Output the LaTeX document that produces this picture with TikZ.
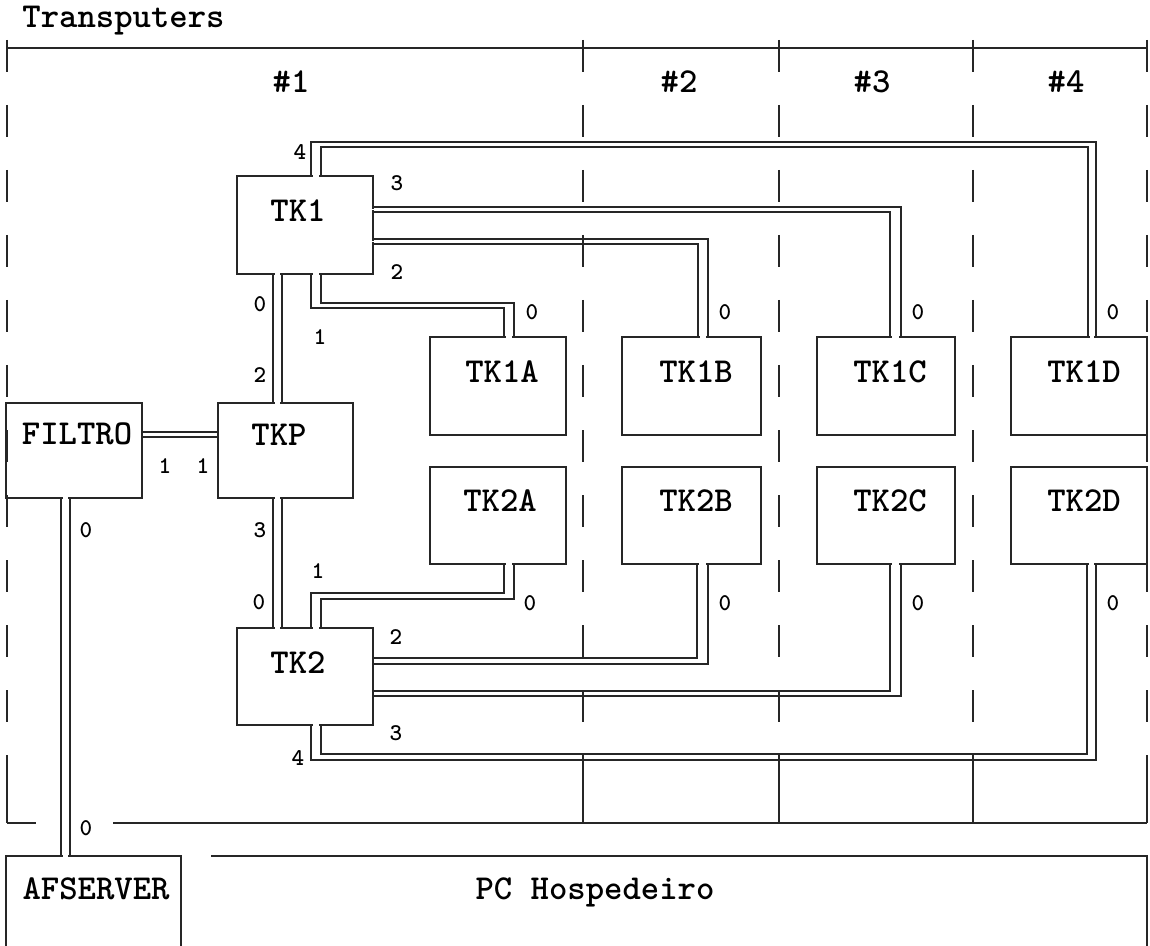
\documentclass[tikz,border=0pt]{standalone}
\usetikzlibrary{calc}
\begin{document}
\begin{tikzpicture}[x=0.5pt,y=-0.5pt,
  ln/.style={line width=0.7pt, draw=black!85},
  box/.style={ln, draw, rectangle, inner sep=0pt, outer sep=0pt},
  lk/.style={ln},
  gapw/.style={draw=white, line width=0.9pt},
  dv/.style={ln, dash pattern=on 16pt off 16.5pt},
  lbl/.style={font=\ttfamily\bfseries\fontsize{17.5}{20}\selectfont, inner sep=0pt},
  num/.style={font=\ttfamily\bfseries\fontsize{12}{14}\selectfont, inner sep=0pt},
]
\useasboundingbox (0,0) rectangle (1150,946);
\clip (0,0) rectangle (1150,946);

% frame
\draw[ln] (7,48) -- (1147,48);
\draw[ln] (7,823) -- (36,823);
\draw[ln] (113,823) -- (1147,823);
\foreach \xx in {7,583,779,973,1147}{
  \draw[dv] (\xx,40) -- (\xx,823);
  \draw[ln] (\xx,785) -- (\xx,823);
}

% titles
\node[lbl, anchor=base west] (title) at (22,28) {Transputers};
\node[lbl, anchor=base] (c1) at (291,93) {\#1};
\node[lbl, anchor=base] (c2) at (679,93) {\#2};
\node[lbl, anchor=base] (c3) at (872,93) {\#3};
\node[lbl, anchor=base] (c4) at (1066,93) {\#4};

% boxes
\node[box, minimum width=68pt, minimum height=49pt] (tk1) at (305,225) {};
\node[box, minimum width=67.5pt, minimum height=47.5pt] (tkp) at (285.5,450.5) {};
\node[box, minimum width=68pt, minimum height=47.5pt] (filtro) at (74,450.5) {};
\node[box, minimum width=68pt, minimum height=48.5pt] (tk2) at (305,676.5) {};
\node[box, minimum width=68pt, minimum height=49pt] (tk1a) at (498,386) {};
\node[box, minimum width=69.5pt, minimum height=49pt] (tk1b) at (691.5,386) {};
\node[box, minimum width=69pt, minimum height=49pt] (tk1c) at (886,386) {};
\node[box, minimum width=68pt, minimum height=49pt] (tk1d) at (1079,386) {};
\node[box, minimum width=68pt, minimum height=48.5pt] (tk2a) at (498,515.5) {};
\node[box, minimum width=69.5pt, minimum height=48.5pt] (tk2b) at (691.5,515.5) {};
\node[box, minimum width=69pt, minimum height=48.5pt] (tk2c) at (886,515.5) {};
\node[box, minimum width=68pt, minimum height=48.5pt] (tk2d) at (1079,515.5) {};
\node[box, minimum width=87.5pt, minimum height=60pt] (afs) at (93.5,916) {};
\coordinate (pcnw) at (211,856);
\draw[ln] (pcnw) -- (1147,856) -- (1147,960);

% box texts
\node[lbl, anchor=base] (tk1t) at (298,222) {TK1};
\node[lbl, anchor=base] (tkpt) at (279,445) {TKP};
\node[lbl, anchor=base] (filtrot) at (77,444) {FILTRO};
\node[lbl, anchor=base] (tk2t) at (298,673) {TK2};
\node[lbl, anchor=base] (tk1at) at (502,382) {TK1A};
\node[lbl, anchor=base] (tk1bt) at (696,382) {TK1B};
\node[lbl, anchor=base] (tk1ct) at (890,382) {TK1C};
\node[lbl, anchor=base] (tk1dt) at (1084,382) {TK1D};
\node[lbl, anchor=base] (tk2at) at (500,511) {TK2A};
\node[lbl, anchor=base] (tk2bt) at (696,511) {TK2B};
\node[lbl, anchor=base] (tk2ct) at (890,511) {TK2C};
\node[lbl, anchor=base] (tk2dt) at (1084,511) {TK2D};
\node[lbl, anchor=base] (afst) at (96,899) {AFSERVER};
\node[lbl, anchor=base] (pct) at (595,899) {PC Hospedeiro};

% openings in box borders where links attach
\draw[gapw] (313,176) -- (319,176);
\draw[gapw] (373,209) -- (373,210);
\draw[gapw] (373,241) -- (373,242);
\draw[gapw] (313,274) -- (319,274);
\draw[gapw] (275,274) -- (280,274);
\draw[gapw] (275,403) -- (280,403);
\draw[gapw] (275,498) -- (280,498);
\draw[gapw] (275,628) -- (280,628);
\draw[gapw] (313,628) -- (319,628);
\draw[gapw] (313,725) -- (319,725);
\draw[gapw] (63,498) -- (68,498);
\draw[gapw] (63,856) -- (68,856);
\draw[gapw] (506,337) -- (512,337);
\draw[gapw] (700,337) -- (706,337);
\draw[gapw] (892,337) -- (899,337);
\draw[gapw] (1090,337) -- (1094,337);
\draw[gapw] (506,564) -- (512,564);
\draw[gapw] (699,564) -- (706,564);
\draw[gapw] (892,564) -- (899,564);
\draw[gapw] (1089,564) -- (1094,564);

% links (each a pair of parallel lines)
% TK1 (4) -> TK1D (0)
\draw[lk] ([xshift=37pt]tk1.north west) |- (1096,142) -- ([xshift=42.5pt]tk1d.north west);
\draw[lk] ([xshift=42pt]tk1.north west) |- (1088,147) -- ([xshift=38.5pt]tk1d.north west);
% TK1 (3) -> TK1C (0)
\draw[lk] ([yshift=-15.5pt]tk1.north east) -| ([xshift=42pt]tk1c.north west);
\draw[lk] ([yshift=-18pt]tk1.north east) -| ([xshift=36.5pt]tk1c.north west);
% TK1 (2) -> TK1B (0)
\draw[lk] ([yshift=-31.5pt]tk1.north east) -| ([xshift=43pt]tk1b.north west);
\draw[lk] ([yshift=-34pt]tk1.north east) -| ([xshift=38pt]tk1b.north west);
% TK1 (1) -> TK1A (0)
\draw[lk] ([xshift=37pt]tk1.south west) |- (504,308) -- ([xshift=37pt]tk1a.north west);
\draw[lk] ([xshift=42pt]tk1.south west) |- (514,303) -- ([xshift=42pt]tk1a.north west);
% TK1 (0) -> TKP (2)
\draw[lk] ([xshift=18pt]tk1.south west) -- ([xshift=27.5pt]tkp.north west);
\draw[lk] ([xshift=22.5pt]tk1.south west) -- ([xshift=32pt]tkp.north west);
% FILTRO (1) -> TKP (1)
\draw[lk] ([yshift=-14.5pt]filtro.north east) -- ([yshift=-14.5pt]tkp.north west);
\draw[lk] ([yshift=-17pt]filtro.north east) -- ([yshift=-17pt]tkp.north west);
% TKP (3) -> TK2 (0)
\draw[lk] ([xshift=27.5pt]tkp.south west) -- ([xshift=18pt]tk2.north west);
\draw[lk] ([xshift=32pt]tkp.south west) -- ([xshift=22.5pt]tk2.north west);
% FILTRO (0) -> AFSERVER (0)
\draw[lk] ([xshift=27.5pt]filtro.south west) -- ([xshift=27.5pt]afs.north west);
\draw[lk] ([xshift=32pt]filtro.south west) -- ([xshift=32pt]afs.north west);
% TK2 (1) -> TK2A (0)
\draw[lk] ([xshift=37pt]tk2.north west) |- (504,593) -- ([xshift=37pt]tk2a.south west);
\draw[lk] ([xshift=42pt]tk2.north west) |- (514,599) -- ([xshift=42pt]tk2a.south west);
% TK2 (2) -> TK2B (0)
\draw[lk] ([yshift=-15pt]tk2.north east) -| ([xshift=37.5pt]tk2b.south west);
\draw[lk] ([yshift=-18pt]tk2.north east) -| ([xshift=43pt]tk2b.south west);
% TK2 -> TK2C (0)
\draw[lk] ([yshift=-31.5pt]tk2.north east) -| ([xshift=36.5pt]tk2c.south west);
\draw[lk] ([yshift=-34pt]tk2.north east) -| ([xshift=42pt]tk2c.south west);
% TK2 (4) -> TK2D (0)
\draw[lk] ([xshift=37pt]tk2.south west) |- (1096,760) -- ([xshift=42.5pt]tk2d.south west);
\draw[lk] ([xshift=42pt]tk2.south west) |- (1087,754) -- ([xshift=38pt]tk2d.south west);

% port numbers
\node[num] (n1) at (300,152) {4};
\node[num] (n2) at (397,183) {3};
\node[num] (n3) at (397,272) {2};
\node[num] (n4) at (260,304) {0};
\node[num] (n5) at (320,337) {1};
\node[num] (n6) at (260,375) {2};
\node[num] (n7) at (532,312) {0};
\node[num] (n8) at (725,312) {0};
\node[num] (n9) at (918,312) {0};
\node[num] (n10) at (1113,312) {0};
\node[num] (n11) at (165,466) {1};
\node[num] (n12) at (203,466) {1};
\node[num] (n13) at (86,530) {0};
\node[num] (n14) at (260,530) {3};
\node[num] (n15) at (318,571) {1};
\node[num] (n16) at (259,602) {0};
\node[num] (n17) at (530,603) {0};
\node[num] (n18) at (725,603) {0};
\node[num] (n19) at (918,603) {0};
\node[num] (n20) at (1113,603) {0};
\node[num] (n21) at (396,637) {2};
\node[num] (n22) at (396,733) {3};
\node[num] (n23) at (298,758) {4};
\node[num] (n24) at (86,828) {0};
\end{tikzpicture}
\end{document}
